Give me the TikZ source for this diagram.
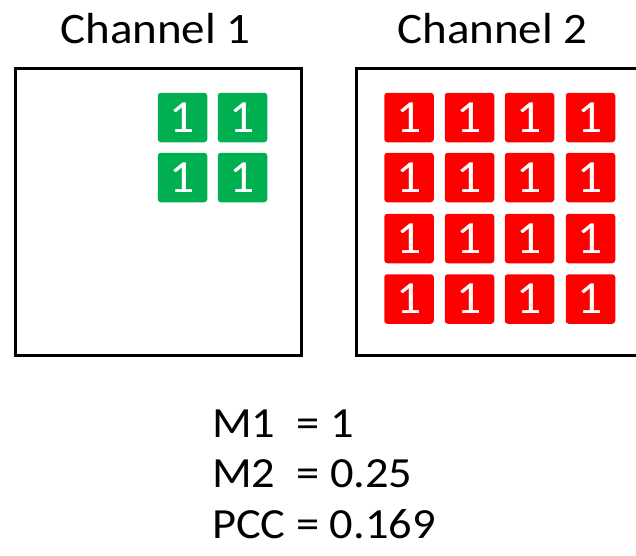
\documentclass[tikz,border=0pt]{standalone}
\usepackage{fontspec}
\setmainfont[FakeStretch=1.08]{Carlito}
\definecolor{cgreen}{HTML}{00B050}
\definecolor{cred}{HTML}{FF0000}
\begin{document}
\begin{tikzpicture}[x=1pt,y=-1pt,
  cell/.style={minimum width=49.5pt,minimum height=49.5pt,inner sep=0pt,rounded corners=3pt,text=white,font=\fontsize{46}{46}\selectfont},
  gcell/.style={cell,fill=cgreen},
  rcell/.style={cell,fill=cred},
  frame/.style={draw=black,line width=3pt},
  title/.style={anchor=base,inner sep=0pt,font=\fontsize{43.5}{43.5}\selectfont},
  stat/.style={anchor=base west,inner sep=0pt,font=\fontsize{43}{43}\selectfont}]
\clip (0,0) rectangle (636,555);
\fill[white] (0,0) rectangle (636,555);
\node[title] (t1) at (155.5,43) {Channel 1};
\node[title] (t2) at (492.5,43) {Channel 2};
\draw[frame] (15.5,68) rectangle (301,355);
\draw[frame] (356,68) rectangle (642,355);
\foreach \x [count=\i] in {182.5,242.5}
  \foreach \y [count=\j] in {117.5,177.5}
    \node[gcell] (g\i\j) at (\x,\y) {1};
\foreach \x [count=\i] in {409,469.5,529.5,590.5}
  \foreach \y [count=\j] in {117.5,177.5,238.5,299}
    \node[rcell] (r\i\j) at (\x,\y) {1};
\node[stat] (m1) at (212,437) {M1~~= 1};
\node[stat] (m2) at (212,487) {M2~~= 0.25};
\node[stat] (pcc) at (212,538) {PCC = 0.169};
\end{tikzpicture}
\end{document}
